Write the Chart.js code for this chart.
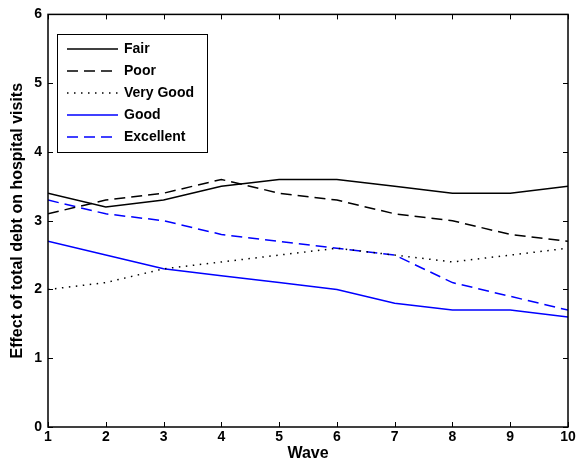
<!DOCTYPE html>
<html lang="en">
<head>
    <meta charset="UTF-8">
    <title>Effect of total debt on hospital visits</title>
    <style>
        html, body { margin: 0; padding: 0; background: #fff; }
        #wrap { width: 584px; height: 465px; }
    </style>
</head>
<body>
    <div id="wrap"><canvas id="myChart"></canvas></div>

    <script src="https://cdn.jsdelivr.net/npm/chart.js@4.4.0/dist/chart.umd.min.js"></script>
    <script>
    // data
    var waves = [1, 2, 3, 4, 5, 6, 7, 8, 9, 10];
    var fair      = [3.4, 3.2, 3.3, 3.5, 3.6, 3.6, 3.5, 3.4, 3.4, 3.5];
    var poor      = [3.1, 3.3, 3.4, 3.6, 3.4, 3.3, 3.1, 3.0, 2.8, 2.7];
    var veryGood  = [2.0, 2.1, 2.3, 2.4, 2.5, 2.6, 2.5, 2.4, 2.5, 2.6];
    var good      = [2.7, 2.5, 2.3, 2.2, 2.1, 2.0, 1.8, 1.7, 1.7, 1.6];
    var excellent = [3.3, 3.1, 3.0, 2.8, 2.7, 2.6, 2.5, 2.1, 1.9, 1.7];
    var yTicks = [0, 1, 2, 3, 4, 5, 6];

    var FONT = '"Liberation Sans", Arial, sans-serif';

    function pts(vals) {
        return waves.map((w, i) => ({ x: w, y: vals[i] }));
    }

    function series(label, vals, color, dash) {
        return {
            label: label,
            data: pts(vals),
            borderColor: color,
            backgroundColor: color,
            borderWidth: 1.5,
            borderDash: dash,
            pointRadius: 0,
            tension: 0,
            fill: false
        };
    }

    // MATLAB-ish inward ticks on all four sides + legend box inside the axes
    var matlabBox = {
        id: 'matlabBox',
        afterDraw(chart) {
            var c = chart.ctx, a = chart.chartArea;
            var xs = chart.scales.x, ys = chart.scales.y;
            var len = 5;
            c.save();
            c.strokeStyle = '#000';
            c.lineWidth = 1;
            c.beginPath();
            waves.forEach(w => {
                var px = Math.round(xs.getPixelForValue(w)) + 0.5;
                c.moveTo(px, a.bottom); c.lineTo(px, a.bottom - len);
                c.moveTo(px, a.top); c.lineTo(px, a.top + len);
            });
            yTicks.forEach(v => {
                var py = Math.round(ys.getPixelForValue(v)) + 0.5;
                c.moveTo(a.left, py); c.lineTo(a.left + len, py);
                c.moveTo(a.right, py); c.lineTo(a.right - len, py);
            });
            c.stroke();
            c.lineWidth = 1.5;
            c.strokeRect(a.left, a.top, a.right - a.left, a.bottom - a.top);

            // legend
            var bx = 57, by = 34, bw = 150, bh = 118;
            c.fillStyle = '#fff';
            c.fillRect(bx, by, bw, bh);
            c.lineWidth = 1;
            c.strokeRect(bx + 0.5, by + 0.5, bw, bh);
            c.font = 'bold 14px ' + FONT;
            c.textBaseline = 'middle';
            chart.data.datasets.forEach((ds, i) => {
                var yy = by + 15 + i * 22;
                c.strokeStyle = ds.borderColor;
                c.lineWidth = 1.5;
                c.setLineDash(ds.borderDash || []);
                c.beginPath();
                c.moveTo(bx + 10, yy); c.lineTo(bx + 61, yy);
                c.stroke();
                c.setLineDash([]);
                c.fillStyle = '#000';
                c.fillText(ds.label, bx + 67, yy);
            });
            c.restore();
        }
    };

    var ctx = document.getElementById('myChart');
    var myChart = new Chart(ctx, {
        type: 'line',
        data: {
            datasets: [
                series('Fair', fair, '#000', []),
                series('Poor', poor, '#000', [11, 6]),
                series('Very Good', veryGood, '#000', [1.5, 5.5]),
                series('Good', good, '#0000ff', []),
                series('Excellent', excellent, '#0000ff', [11, 6])
            ]
        },
        options: {
            responsive: true,
            maintainAspectRatio: false,
            animation: false,
            layout: { padding: { left: 8, right: 16, top: 10, bottom: 2 } },
            plugins: {
                legend: { display: false },
                tooltip: { enabled: false }
            },
            scales: {
                x: {
                    type: 'linear',
                    min: 1, max: 10,
                    afterBuildTicks: s => { s.ticks = waves.map(v => ({ value: v })); },
                    afterFit: s => { s.height = 36; },
                    grid: { display: false, drawTicks: false },
                    border: { display: false },
                    ticks: {
                        color: '#000', padding: 2, maxRotation: 0,
                        font: { family: FONT, size: 14, weight: 'bold' }
                    },
                    title: {
                        display: true, text: 'Wave', color: '#000', padding: 0,
                        font: { family: FONT, size: 16, weight: 'bold' }
                    }
                },
                y: {
                    min: 0, max: 6,
                    afterBuildTicks: s => { s.ticks = yTicks.map(v => ({ value: v })); },
                    afterFit: s => { s.width = 40; },
                    grid: { display: false, drawTicks: false },
                    border: { display: false },
                    ticks: {
                        color: '#000', padding: 6,
                        font: { family: FONT, size: 14, weight: 'bold' }
                    },
                    title: {
                        display: true, text: 'Effect of total debt on hospital visits', color: '#000', padding: 0,
                        font: { family: FONT, size: 16, weight: 'bold' }
                    }
                }
            }
        },
        plugins: [matlabBox]
    });
    </script>
</body>
</html>
